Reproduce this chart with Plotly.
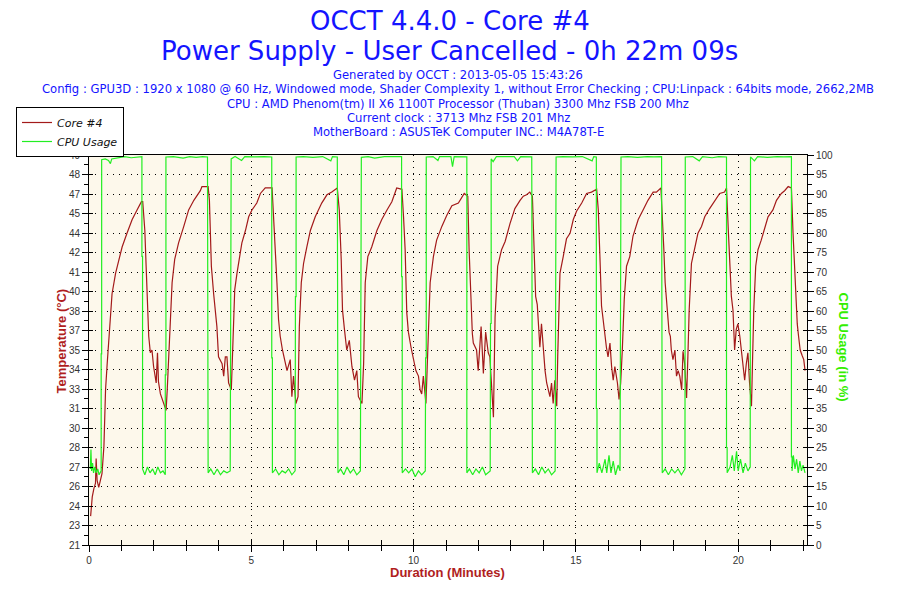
import plotly.graph_objects as go

# temperature of core #4 (minutes, deg C)
temp_minutes = [
    0.05, 0.10, 0.15, 0.20, 0.22, 0.25, 0.30, 0.35, 0.40, 0.46, 0.51, 0.56, 0.61, 0.66, 0.71, 0.82,
    0.92, 1.02, 1.17, 1.33, 1.48, 1.615, 1.655, 1.72, 1.76, 1.80, 1.84, 1.89, 1.94, 1.99, 2.07, 2.11,
    2.14, 2.20, 2.30, 2.375, 2.41, 2.46, 2.51, 2.56, 2.64, 2.76, 2.92, 3.07, 3.23, 3.43, 3.48, 3.67,
    3.71, 3.77, 3.84, 3.94, 3.99, 4.10, 4.15, 4.20, 4.25, 4.30, 4.385, 4.43, 4.49, 4.56, 4.63, 4.71,
    4.82, 4.92, 5.02, 5.17, 5.28, 5.43, 5.64, 5.69, 5.74, 5.79, 5.84, 5.89, 5.96, 6.03, 6.10, 6.20,
    6.25, 6.30, 6.375, 6.44, 6.48, 6.54, 6.61, 6.71, 6.82, 6.97, 7.17, 7.33, 7.48, 7.65, 7.71, 7.77,
    7.81, 7.87, 7.94, 8.02, 8.10, 8.18, 8.25, 8.30, 8.41, 8.46, 8.51, 8.59, 8.71, 8.87, 9.02, 9.18,
    9.33, 9.48, 9.64, 9.69, 9.74, 9.79, 9.84, 9.92, 9.99, 10.07, 10.15, 10.20, 10.25, 10.30, 10.38,
    10.43, 10.51, 10.61, 10.71, 10.87, 11.02, 11.18, 11.38, 11.56, 11.67, 11.71, 11.77, 11.81, 11.84,
    11.94, 11.99, 12.08, 12.15, 12.22, 12.30, 12.35, 12.41, 12.46, 12.51, 12.59, 12.71, 12.82, 12.97,
    13.12, 13.28, 13.38, 13.48, 13.58, 13.66, 13.72, 13.76, 13.81, 13.84, 13.89, 13.94, 13.99, 14.05,
    14.10, 14.15, 14.20, 14.25, 14.30, 14.35, 14.41, 14.44, 14.51, 14.61, 14.71, 14.82, 14.92, 15.02,
    15.18, 15.33, 15.48, 15.64, 15.69, 15.74, 15.79, 15.84, 15.89, 15.94, 15.99, 16.05, 16.10, 16.15,
    16.20, 16.28, 16.33, 16.38, 16.43, 16.49, 16.56, 16.66, 16.76, 16.92, 17.07, 17.22, 17.38, 17.48,
    17.62, 17.67, 17.71, 17.75, 17.79, 17.84, 17.87, 17.91, 17.94, 17.99, 18.05, 18.10, 18.15, 18.20,
    18.26, 18.30, 18.35, 18.41, 18.45, 18.49, 18.56, 18.66, 18.76, 18.87, 18.97, 19.12, 19.28, 19.43,
    19.58, 19.64, 19.70, 19.74, 19.79, 19.84, 19.89, 19.94, 19.99, 20.05, 20.10, 20.15, 20.20, 20.25,
    20.30, 20.35, 20.41, 20.44, 20.48, 20.54, 20.61, 20.71, 20.82, 20.92, 21.07, 21.18, 21.33, 21.43,
    21.54, 21.64, 21.69, 21.74, 21.79, 21.82, 21.86, 21.91, 21.97, 22.02, 22.06,
]
temp_celsius = [
    23.3, 24.7, 25.3, 25.7, 27.5, 25.9, 25.4, 26.0, 26.4, 28.4, 32.5, 34.4, 36.4, 38.1, 39.5, 41.0,
    42.0, 42.9, 43.9, 44.9, 45.6, 46.2, 46.2, 44.1, 41.5, 38.6, 36.4, 35.2, 35.4, 34.2, 33.0, 35.2,
    33.1, 32.2, 31.5, 31.0, 32.5, 35.4, 38.3, 40.3, 42.0, 43.2, 44.4, 45.6, 46.3, 47.0, 47.3, 47.3,
    46.3, 41.5, 39.5, 37.1, 34.9, 34.4, 33.5, 34.9, 34.9, 33.0, 32.5, 35.4, 39.8, 41.0, 42.2, 43.2,
    44.1, 45.1, 45.6, 46.1, 46.8, 47.2, 47.2, 45.1, 42.2, 40.3, 37.6, 36.4, 35.4, 34.7, 33.9, 34.7,
    32.0, 33.5, 31.5, 32.0, 37.1, 40.3, 41.7, 42.9, 44.1, 45.1, 46.1, 46.7, 46.9, 47.2, 45.6, 42.0,
    38.3, 36.9, 35.4, 36.1, 34.2, 33.2, 33.9, 32.0, 31.5, 34.4, 40.3, 42.2, 42.9, 44.1, 44.9, 45.6,
    46.2, 47.2, 47.1, 45.1, 42.7, 38.1, 36.7, 35.6, 34.7, 33.9, 33.5, 32.5, 32.2, 33.5, 31.5,
    34.9, 40.3, 42.2, 43.4, 44.4, 45.2, 45.9, 46.1, 46.8, 46.6, 42.7, 38.8, 36.6, 35.9,
    35.4, 33.9, 37.1, 33.7, 36.7, 35.2, 34.9, 32.5, 30.5, 37.8, 41.5, 42.7, 43.3, 44.6,
    45.7, 46.3, 46.6, 46.7, 46.9, 46.6, 42.0, 39.3, 38.7, 37.3, 35.6, 37.3, 35.4, 33.9,
    33.0, 32.5, 32.0, 33.0, 31.5, 33.2, 31.3, 34.9, 41.0, 42.2, 43.5, 43.9, 44.9, 45.5,
    46.1, 46.8, 46.9, 47.1, 45.6, 42.2, 38.6, 37.6, 36.4, 35.6, 34.9, 35.9, 34.2, 33.2,
    34.2, 33.0, 31.8, 33.0, 35.4, 39.1, 41.5, 42.2, 43.7, 44.9, 45.6, 46.3, 46.9, 46.9,
    47.2, 45.1, 42.7, 40.3, 39.3, 37.6, 36.7, 36.4, 35.4, 34.7, 35.4, 33.5, 33.9, 33.5,
    32.5, 35.3, 34.4, 31.9, 34.9, 38.3, 41.7, 42.7, 43.9, 44.4, 45.1, 45.7, 46.3, 46.8,
    46.9, 47.2, 43.9, 41.5, 39.3, 38.3, 35.4, 36.9, 37.3, 36.4, 35.4, 34.2, 33.2, 34.4,
    35.2, 33.0, 31.3, 34.4, 38.3, 41.5, 42.7, 43.4, 44.4, 45.1, 45.6, 46.3, 46.8, 47.0,
    47.3, 47.2, 43.9, 40.8, 38.3, 37.3, 36.4, 35.4, 35.0, 34.7, 33.9,
]

# CPU usage (minutes, %)
cpu_minutes = [
    0.04, 0.06, 0.08, 0.11, 0.14, 0.18, 0.22, 0.27, 0.31, 0.36, 0.375, 0.375, 0.39, 0.39,
    0.5, 0.6, 0.66, 0.7, 0.9, 1.1, 1.3, 1.5, 1.63, 1.63, 1.65, 1.65,
    1.72, 1.8, 1.88, 1.96, 2.04, 2.12, 2.2, 2.28, 2.35, 2.35, 2.37, 2.37,
    2.6, 2.9, 3.1, 3.3, 3.5, 3.65, 3.65, 3.67, 3.67,
    3.75, 3.85, 3.95, 4.05, 4.15, 4.25, 4.35, 4.36, 4.38, 4.38,
    4.5, 4.7, 4.8, 5.1, 5.4, 5.63, 5.63, 5.65, 5.65,
    5.75, 5.85, 5.95, 6.05, 6.15, 6.25, 6.35, 6.36, 6.38, 6.38,
    6.6, 6.9, 7.2, 7.45, 7.5, 7.65, 7.65, 7.67, 7.67,
    7.75, 7.85, 7.95, 8.05, 8.15, 8.25, 8.36, 8.37, 8.39, 8.39,
    8.6, 8.8, 9.1, 9.4, 9.63, 9.63, 9.65, 9.65,
    9.75, 9.85, 9.95, 10.05, 10.15, 10.25, 10.36, 10.37, 10.39, 10.39,
    10.6, 10.75, 10.8, 11.15, 11.2, 11.25, 11.64, 11.64,
    11.72, 11.82, 11.92, 12.02, 12.12, 12.22, 12.36, 12.37, 12.39, 12.39,
    12.45, 12.55, 12.9, 13.1, 13.2, 13.3, 13.64, 13.64, 13.66, 13.66,
    13.75, 13.85, 13.95, 14.05, 14.15, 14.25, 14.36, 14.37, 14.39, 14.39,
    14.6, 14.9, 15.2, 15.5, 15.55, 15.63, 15.63, 15.65, 15.65,
    15.72, 15.8, 15.9, 15.95, 16.02, 16.08, 16.15, 16.22, 16.3, 16.36, 16.37, 16.39, 16.39,
    16.6, 16.9, 17.2, 17.4, 17.64, 17.64, 17.66, 17.66,
    17.75, 17.85, 17.95, 18.05, 18.15, 18.25, 18.36, 18.37,
    18.6, 18.8, 18.9, 19.2, 19.4, 19.64, 19.64, 19.66, 19.66,
    19.75, 19.82, 19.88, 19.95, 20.0, 20.07, 20.15, 20.22, 20.3, 20.37, 20.38,
    20.5, 20.6, 20.9, 21.2, 21.4, 21.64, 21.64, 21.66, 21.66,
    21.7, 21.75, 21.8, 21.85, 21.9, 21.95, 22.0, 22.06,
]
cpu_percent = [
    19.5, 24.5, 19, 21, 18.5, 20, 18.5, 19.5, 18, 19, 19, 49, 49, 98.8,
    99, 98.6, 97.8, 99, 99.3, 99.6, 99.3, 99.6, 99.6, 74, 74, 19.5,
    18, 20, 18.5, 19.5, 18, 20, 18.5, 19, 18, 43.6, 43.6, 99.5,
    99.6, 99.2, 99.6, 99.4, 99.6, 99.5, 59, 59, 18.5,
    19.5, 18, 19.5, 18, 19, 18.5, 19, 58.5, 58.5, 99,
    99.6, 98.6, 99.6, 99.5, 99.6, 99.5, 48, 48, 18.5,
    19.5, 18, 19, 18.5, 19.5, 18, 19, 63.7, 63.7, 99.5,
    99.6, 99.4, 99.6, 98.5, 99.6, 99.5, 50.8, 50.8, 18.5,
    19.5, 18, 20, 18.5, 19.5, 18, 19, 63.7, 63.7, 99.4,
    99.6, 99.2, 99.6, 99.5, 99.6, 68.8, 68.8, 18.5,
    19.5, 18.5, 19.5, 17.5, 19, 18, 19, 48, 48, 99.5,
    99.6, 98.6, 99.6, 99.6, 97, 99.6, 99.5, 18.5,
    19.5, 18, 19.5, 18.5, 20, 18, 19, 56.8, 56.8, 99,
    98.3, 99.6, 99.5, 99.6, 98.5, 99.6, 99.5, 54, 54, 18.5,
    19.5, 18, 20, 18.5, 19.5, 18, 19, 61.5, 61.5, 99.5,
    99.6, 99.5, 99.6, 98.5, 99.6, 99.5, 35, 35, 18.5,
    21, 18.5, 22, 18.5, 23, 18.5, 21.5, 18, 20.5, 19, 74, 74, 99.5,
    99.6, 99.4, 99.6, 99.5, 99.6, 33.8, 33.8, 18.5,
    19.5, 18, 19.5, 18.5, 19.5, 18, 19.5, 99.5,
    99.6, 98.5, 99.6, 99.3, 99.6, 99.5, 25, 25, 18.5,
    20, 23, 19, 24, 19, 22, 18.5, 21, 19, 20, 99.5,
    98.5, 99.6, 99.4, 99.6, 99.5, 99.6, 22.6, 22.6, 19,
    23, 19.5, 22, 18.5, 21.5, 19, 20.5, 18.5,
]

left_tick_labels = ["21", "23", "24", "26", "27", "28", "30", "31", "33", "34", "35",
                    "37", "38", "40", "41", "42", "44", "45", "47", "48", "49"]
t_min, t_max = 21.2, 49.6
left_tick_vals = [t_min + i * (t_max - t_min) / 20 for i in range(21)]
left_minor_vals = [t_min + (i + 0.5) * (t_max - t_min) / 20 for i in range(20)]
x_max = 22.12

title_lines = ["OCCT 4.4.0 - Core #4", "Power Supply - User Cancelled - 0h 22m 09s"]
info_lines = [
    "Generated by OCCT : 2013-05-05 15:43:26",
    "Config : GPU3D : 1920 x 1080 @ 60 Hz, Windowed mode, Shader Complexity 1, without Error Checking ; CPU:Linpack : 64bits mode, 2662,2MB",
    "CPU : AMD Phenom(tm) II X6 1100T Processor (Thuban) 3300 Mhz FSB 200 Mhz",
    "Current clock : 3713 Mhz FSB 201 Mhz",
    "MotherBoard : ASUSTeK Computer INC.: M4A78T-E",
]

RED = "#A31A1A"
GREEN = "#22EE22"
BLUE = "#1414FF"
NARROW = "Liberation Sans"
tickfont = dict(family=NARROW, size=10, color="#333333")

# the page puts the figure 8px in from the top-left corner of the window
page_offset = 8
plot_left, plot_top, plot_w, plot_h = 89, 155, 718, 390

fig = go.Figure()
fig.add_trace(go.Scatter(x=temp_minutes, y=temp_celsius, name="Core #4", mode="lines",
                         line=dict(color=RED, width=1.2)))
fig.add_trace(go.Scatter(x=cpu_minutes, y=cpu_percent, name="CPU Usage", mode="lines",
                         line=dict(color=GREEN, width=1.2), yaxis="y2"))
# empty traces so the overlay axes (inner half of the crossed ticks) get drawn
fig.add_trace(go.Scatter(x=[None], y=[None], xaxis="x2", yaxis="y", showlegend=False, hoverinfo="skip"))
fig.add_trace(go.Scatter(x=[None], y=[None], yaxis="y3", showlegend=False, hoverinfo="skip"))
fig.add_trace(go.Scatter(x=[None], y=[None], yaxis="y4", showlegend=False, hoverinfo="skip"))

dots = "1px,5px"
m_l = plot_left - page_offset
m_t = plot_top - page_offset
fig.update_layout(
    width=900, height=600,
    margin=dict(l=m_l, r=900 - m_l - plot_w, t=m_t, b=600 - m_t - plot_h, autoexpand=False),
    paper_bgcolor="white", plot_bgcolor="#FDF8EB",
    xaxis=dict(range=[0, x_max], dtick=5, tick0=0, showline=True, linecolor="black", linewidth=1,
               mirror=True, ticks="outside", ticklen=6, tickcolor="black", tickfont=tickfont,
               showgrid=True, gridcolor="black", griddash=dots, gridwidth=1, zeroline=False,
               automargin=False,
               minor=dict(dtick=1, ticks="outside", ticklen=5, tickcolor="black", showgrid=False)),
    xaxis2=dict(range=[0, x_max], overlaying="x", anchor="y", side="bottom", dtick=5, tick0=0,
                ticks="inside", ticklen=5, tickcolor="black", showticklabels=False, showgrid=False,
                zeroline=False, showline=False,
                minor=dict(dtick=1, ticks="inside", ticklen=5, tickcolor="black", showgrid=False)),
    yaxis=dict(range=[t_min, t_max], tickmode="array", tickvals=left_tick_vals, ticktext=left_tick_labels,
               showline=True, linecolor="black", linewidth=1, ticks="outside", ticklen=6, tickcolor="black",
               tickfont=tickfont, showgrid=False, zeroline=False, automargin=False,
               minor=dict(tickmode="array", tickvals=left_minor_vals, ticks="outside", ticklen=4,
                          tickcolor="black", showgrid=False)),
    yaxis2=dict(range=[0, 100], overlaying="y", side="right", anchor="x", dtick=5, tick0=0,
                showline=True, linecolor="black", linewidth=1, ticks="outside", ticklen=6, tickcolor="black",
                tickfont=tickfont, showgrid=True, gridcolor="black", griddash=dots, gridwidth=1,
                zeroline=False, automargin=False,
                minor=dict(dtick=2.5, tick0=0, ticks="outside", ticklen=4, tickcolor="black", showgrid=False)),
    yaxis3=dict(range=[t_min, t_max], overlaying="y", side="left", anchor="x", tickmode="array",
                tickvals=left_tick_vals, ticks="inside", ticklen=4, tickcolor="black", showticklabels=False,
                showgrid=False, zeroline=False, showline=False),
    yaxis4=dict(range=[0, 100], overlaying="y", side="right", anchor="x", dtick=5, tick0=0,
                ticks="inside", ticklen=4, tickcolor="black", showticklabels=False, showgrid=False,
                zeroline=False, showline=False),
    legend=dict(x=(16 - plot_left) / plot_w, y=(plot_top + plot_h - 107) / plot_h,
                xanchor="left", yanchor="top", bgcolor="white",
                bordercolor="black", borderwidth=1, tracegroupgap=0, itemwidth=30,
                font=dict(family="DejaVu Sans", size=11, color="#111111", style="italic")),
    showlegend=True,
)


def px_x(px):
    return (px - plot_left) / plot_w


def px_y(py):
    return (plot_top + plot_h - py) / plot_h


# titles and info lines above the plot
for text, ypix in zip(title_lines, [21, 51]):
    fig.add_annotation(text=text, xref="paper", yref="paper", x=px_x(450), y=px_y(ypix),
                       showarrow=False, xanchor="center", yanchor="middle",
                       font=dict(family="DejaVu Sans", size=26, color=BLUE))
for i, text in enumerate(info_lines):
    fig.add_annotation(text=text, xref="paper", yref="paper", x=px_x(458), y=px_y(75 + 14.25 * i),
                       showarrow=False, xanchor="center", yanchor="middle",
                       font=dict(family="DejaVu Sans", size=11.6, color=BLUE))

# axis titles
fig.add_annotation(text="<b>Temperature (°C)</b>", xref="paper", yref="paper", x=px_x(51),
                   y=px_y(341), textangle=-90, showarrow=False,
                   font=dict(family=NARROW, size=13, color="#B01E1E"))
fig.add_annotation(text="<b>CPU Usage (in %)</b>", xref="paper", yref="paper", x=px_x(853),
                   y=px_y(347), textangle=90, showarrow=False,
                   font=dict(family=NARROW, size=13, color="#33EE00"))
fig.add_annotation(text="<b>Duration (Minutes)</b>", xref="paper", yref="paper", x=px_x(447),
                   y=px_y(582), showarrow=False,
                   font=dict(family=NARROW, size=13, color="#B01E1E"))

fig.write_html("out.html")
